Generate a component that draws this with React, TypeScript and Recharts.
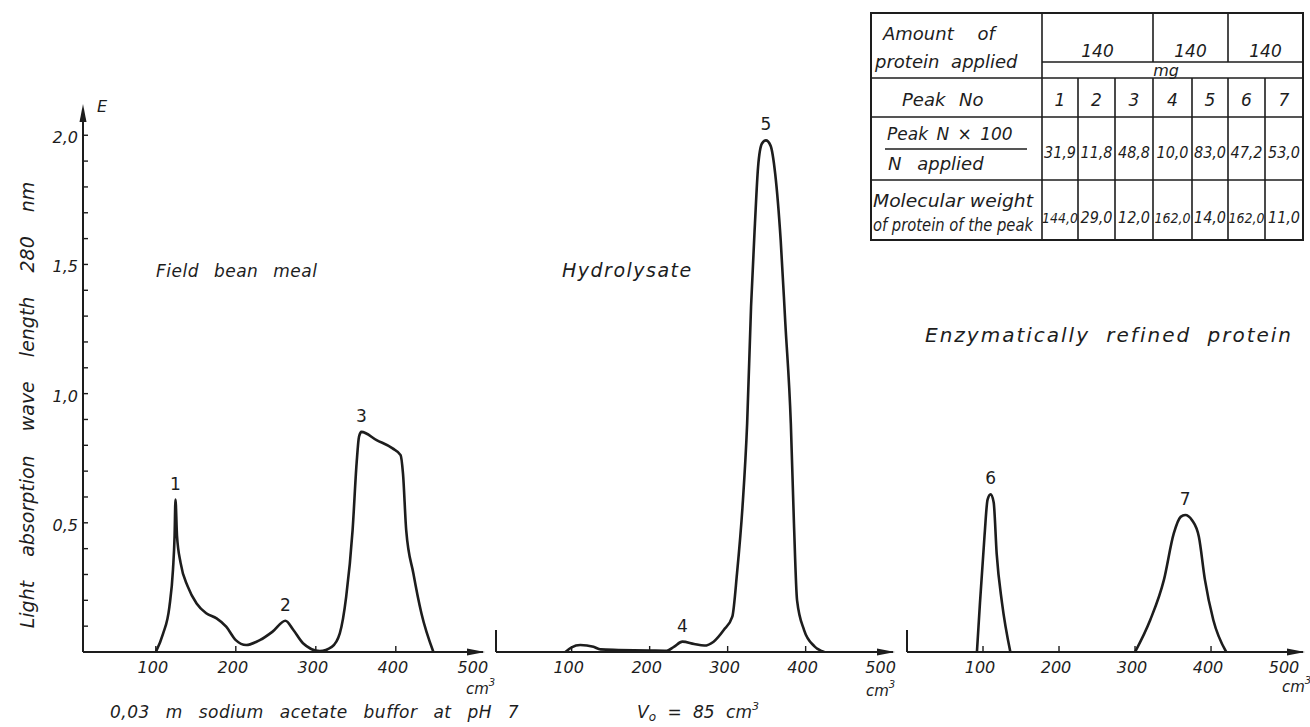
import React from "react";
import { LineChart, Line, XAxis, YAxis, ReferenceDot, ReferenceLine } from "recharts";

// elution volume (cm3) and extinction E at 280 nm
const fieldBeanVolume = [100, 109, 117, 121.5, 123.5, 124.6, 126.5, 131, 140, 151, 163, 176, 188, 200, 213, 230, 246, 262, 272, 284, 305, 320, 330, 338, 346, 351, 354, 357, 376, 396, 406, 409, 413, 422, 432, 447];
const fieldBeanE = [0, 0.07, 0.175, 0.32, 0.45, 0.59, 0.45, 0.345, 0.253, 0.188, 0.15, 0.13, 0.098, 0.046, 0.027, 0.046, 0.079, 0.121, 0.085, 0.034, 0.004, 0.02, 0.072, 0.214, 0.472, 0.73, 0.833, 0.852, 0.82, 0.788, 0.762, 0.69, 0.472, 0.304, 0.15, 0];

const hydrolysateVolume = [92, 100, 111, 128, 137, 160, 200, 222, 231, 242, 257, 270, 282, 295, 306, 312, 319, 325, 330, 335, 339, 344, 349, 355, 361, 368, 374, 381, 385, 389, 398, 411, 424];
const hydrolysateE = [0, 0.018, 0.027, 0.02, 0.01, 0.008, 0.006, 0.005, 0.02, 0.04, 0.031, 0.025, 0.04, 0.085, 0.137, 0.304, 0.56, 0.885, 1.336, 1.658, 1.877, 1.968, 1.98, 1.96, 1.85, 1.594, 1.27, 0.885, 0.498, 0.2, 0.085, 0.023, 0];

const refinedVolume = [92, 96, 102, 106, 110, 114, 118, 125, 136, 200, 300, 320, 338, 351, 360, 366, 375, 384, 392, 403, 420];
const refinedE = [0, 0.19, 0.45, 0.59, 0.61, 0.58, 0.38, 0.19, 0, null, 0, 0.124, 0.279, 0.459, 0.523, 0.53, 0.51, 0.446, 0.279, 0.124, 0];

const fieldBeanPeaks = [
  { label: "1", volume: 124.6, e: 0.59 },
  { label: "2", volume: 262, e: 0.121 },
  { label: "3", volume: 357, e: 0.852 },
];
const hydrolysatePeaks = [
  { label: "4", volume: 242, e: 0.04 },
  { label: "5", volume: 349, e: 1.98 },
];
const refinedPeaks = [
  { label: "6", volume: 110, e: 0.61 },
  { label: "7", volume: 366, e: 0.53 },
];

const volumeTicks = [100, 200, 300, 400, 500];
const eTicks = [0.1, 0.2, 0.3, 0.4, 0.5, 0.6, 0.7, 0.8, 0.9, 1.0, 1.1, 1.2, 1.3, 1.4, 1.5, 1.6, 1.7, 1.8, 1.9, 2.0];

// table
const amountApplied = ["140", "140", "140"];
const amountSpan = [3, 2, 2];
const peakNumbers = ["1", "2", "3", "4", "5", "6", "7"];
const peakNitrogen = ["31,9", "11,8", "48,8", "10,0", "83,0", "47,2", "53,0"];
const molecularWeight = ["144,0", "29,0", "12,0", "162,0", "14,0", "162,0", "11,0"];

const FONT = "'DejaVu Sans', 'Liberation Sans', sans-serif";
const NARROW = "'Liberation Sans Narrow', 'DejaVu Sans Condensed', sans-serif";
const INK = "#1d1d1d";

const W = 1310;
const H = 727;
const PLOT_TOP = 112;
const PLOT_BOTTOM = 652;
const Y_MAX = 2.09;

const XTick = (props: any) => {
  const { x, y, payload } = props;
  const v = payload.value;
  return (
    <g>
      {v < 500 && <line x1={x} x2={x} y1={y} y2={y - 6} stroke={INK} strokeWidth={1.4} />}
      <text x={x - 3} y={y + 21} textAnchor="middle" fontFamily={FONT} fontStyle="italic" fontSize={16} fill={INK}>
        {v}
      </text>
    </g>
  );
};

const YTick = (props: any) => {
  const { x, y, payload } = props;
  const v = payload.value;
  const major = Math.abs(v * 2 - Math.round(v * 2)) < 1e-6;
  return (
    <g>
      <line x1={x} x2={x + 5} y1={y} y2={y} stroke={INK} strokeWidth={1.4} />
      {major && (
        <text x={x - 5} y={y + 8} textAnchor="end" fontFamily={FONT} fontStyle="italic" fontSize={16} fill={INK}>
          {v.toFixed(1).replace(".", ",")}
        </text>
      )}
    </g>
  );
};

interface PanelProps {
  volume: number[];
  e: (number | null)[];
  peaks: { label: string; volume: number; e: number }[];
  plotLeft: number;
  plotWidth: number;
  domain: [number, number];
  marginLeft: number;
  marginRight: number;
  withYAxis?: boolean;
}

function Panel({ volume, e, peaks, plotLeft, plotWidth, domain, marginLeft, marginRight, withYAxis }: PanelProps) {
  const data = volume.map((v, i) => ({ v, e: e[i] }));
  // axes need 1px of room or recharts skips drawing them
  const left = withYAxis ? marginLeft - 1 : marginLeft;
  return (
    <div style={{ position: "absolute", left: plotLeft - marginLeft, top: 0 }}>
      <LineChart
        width={marginLeft + plotWidth + marginRight}
        height={H}
        data={data}
        margin={{ top: PLOT_TOP, bottom: H - PLOT_BOTTOM - 1, left, right: marginRight }}
      >
        <XAxis
          type="number"
          dataKey="v"
          domain={domain}
          allowDataOverflow
          ticks={volumeTicks}
          interval={0}
          height={1}
          tickSize={0}
          tickMargin={0}
          tickLine={false}
          tick={<XTick />}
          axisLine={{ stroke: INK, strokeWidth: 2 }}
        />
        <YAxis
          type="number"
          domain={[0, Y_MAX]}
          allowDataOverflow
          ticks={eTicks}
          interval={0}
          width={1}
          tickSize={0}
          tickMargin={0}
          tickLine={false}
          hide={!withYAxis}
          tick={<YTick />}
          axisLine={{ stroke: INK, strokeWidth: 2 }}
        />
        {!withYAxis && (
          <ReferenceLine
            segment={[{ x: domain[0], y: 0 }, { x: domain[0], y: 0.085 }]}
            stroke={INK}
            strokeWidth={2}
          />
        )}
        <Line
          type="monotone"
          dataKey="e"
          stroke={INK}
          strokeWidth={2.6}
          dot={false}
          connectNulls={false}
          isAnimationActive={false}
        />
        {peaks.map((p) => (
          <ReferenceDot
            key={p.label}
            x={p.volume}
            y={p.e}
            r={1}
            fill="none"
            stroke="none"
            label={{ value: p.label, position: "top", offset: 9, fontFamily: FONT, fontSize: 17, fill: INK }}
          />
        ))}
      </LineChart>
    </div>
  );
}

const txt = { fontFamily: FONT, fontStyle: "italic" as const, fill: INK };

function Table() {
  const x0 = 871;
  const x1 = 1042;
  const cols = [1042, 1078, 1115, 1153, 1192, 1228, 1265, 1303];
  const rows = [13, 62, 78, 117, 180, 240];
  const mid = (i: number) => (cols[i] + cols[i + 1]) / 2;
  let start = 0;
  const groups = amountSpan.map((s) => {
    const g = { a: cols[start], b: cols[start + s] };
    start += s;
    return g;
  });
  return (
    <g>
      <rect x={x0} y={rows[0]} width={cols[7] - x0} height={rows[5] - rows[0]} fill="none" stroke={INK} strokeWidth={2} />
      <line x1={x1} x2={x1} y1={rows[0]} y2={rows[5]} stroke={INK} strokeWidth={1.6} />
      <line x1={x1} x2={cols[7]} y1={rows[1]} y2={rows[1]} stroke={INK} strokeWidth={1.6} />
      {[2, 3, 4].map((r) => (
        <line key={r} x1={x0} x2={cols[7]} y1={rows[r]} y2={rows[r]} stroke={INK} strokeWidth={1.6} />
      ))}
      {groups.slice(1).map((g, i) => (
        <line key={i} x1={g.a} x2={g.a} y1={rows[0]} y2={rows[1]} stroke={INK} strokeWidth={1.6} />
      ))}
      {cols.slice(1, 7).map((c) => (
        <line key={c} x1={c} x2={c} y1={rows[2]} y2={rows[5]} stroke={INK} strokeWidth={1.6} />
      ))}
      <text x={883} y={40} fontSize={18} style={{ wordSpacing: 18 }} {...txt}>Amount of</text>
      <text x={875} y={68} fontSize={18} style={{ wordSpacing: 6 }} {...txt}>protein applied</text>
      {groups.map((g, i) => (
        <text key={i} x={(g.a + g.b) / 2} y={57} fontSize={17} textAnchor="middle" {...txt}>{amountApplied[i]}</text>
      ))}
      <text x={1166} y={76} fontSize={16} textAnchor="middle" {...txt}>mg</text>
      <text x={902} y={106} fontSize={18} style={{ wordSpacing: 8 }} {...txt}>Peak No</text>
      {peakNumbers.map((n, i) => (
        <text key={n} x={mid(i)} y={106} fontSize={17} textAnchor="middle" {...txt}>{n}</text>
      ))}
      <text x={887} y={140} fontSize={17} style={{ wordSpacing: 3 }} {...txt}>Peak N × 100</text>
      <line x1={885} x2={1027} y1={149} y2={149} stroke={INK} strokeWidth={1.4} />
      <text x={888} y={170} fontSize={18} style={{ wordSpacing: 10 }} {...txt}>N applied</text>
      {peakNitrogen.map((v, i) => (
        <text key={i} x={mid(i)} y={158} fontSize={16} textAnchor="middle" fontFamily={NARROW} fontStyle="italic" fill={INK}>{v}</text>
      ))}
      <text x={873} y={207} fontSize={17} textLength={160} lengthAdjust="spacingAndGlyphs" {...txt}>Molecular weight</text>
      <text x={873} y={231} fontSize={17} textLength={160} lengthAdjust="spacingAndGlyphs" fontFamily={NARROW} fontStyle="italic" fill={INK}>of protein of the peak</text>
      {molecularWeight.map((v, i) => (
        <text key={i} x={mid(i)} y={223} fontSize={v.length > 4 ? 14 : 16} textAnchor="middle" fontFamily={NARROW} fontStyle="italic" fill={INK}>{v}</text>
      ))}
    </g>
  );
}

function Overlay() {
  const arrowX = (tip: number) => `${tip},${PLOT_BOTTOM} ${tip - 18},${PLOT_BOTTOM - 3.5} ${tip - 18},${PLOT_BOTTOM + 3.5}`;
  const cm3 = (x: number, y: number) => (
    <text x={x} y={y} fontSize={15} {...txt}>
      cm<tspan fontSize={10} dy={-8}>3</tspan>
    </text>
  );
  return (
    <svg width={W} height={H} style={{ position: "absolute", left: 0, top: 0, pointerEvents: "none" }}>
      <polygon points={`83,104 79.5,122 86.5,122`} fill={INK} />
      <polygon points={arrowX(485)} fill={INK} />
      <polygon points={arrowX(895)} fill={INK} />
      <polygon points={arrowX(1305)} fill={INK} />
      <text transform="translate(34,405) rotate(-90)" textAnchor="middle" fontSize={19} style={{ wordSpacing: 18 }} {...txt}>
        Light absorption wave length 280 nm
      </text>
      <text x={97} y={112} fontSize={16} {...txt}>E</text>
      <text x={156} y={277} fontSize={17} style={{ wordSpacing: 9, letterSpacing: 0.5 }} {...txt}>Field bean meal</text>
      <text x={562} y={277} fontSize={19} style={{ letterSpacing: 1.5 }} {...txt}>Hydrolysate</text>
      <text x={925} y={342} fontSize={20} style={{ letterSpacing: 2, wordSpacing: 8 }} {...txt}>Enzymatically refined protein</text>
      <text x={110} y={718} fontSize={17} style={{ wordSpacing: 10, letterSpacing: 0.5 }} {...txt}>0,03 m sodium acetate buffor at pH 7</text>
      <text x={637} y={718} fontSize={17} {...txt}>
        V<tspan fontSize={12} dy={3}>o</tspan>
        <tspan dy={-3} style={{ wordSpacing: 6 }}> = 85 cm</tspan>
        <tspan fontSize={11} dy={-8}>3</tspan>
      </text>
      {cm3(466, 694)}
      {cm3(866, 696)}
      {cm3(1282, 692)}
      <Table />
    </svg>
  );
}

export default function App() {
  return (
    <div style={{ position: "absolute", left: 0, top: 0, width: W, height: H, background: "#fff", overflow: "hidden" }}>
      <Panel
        volume={fieldBeanVolume}
        e={fieldBeanE}
        peaks={fieldBeanPeaks}
        plotLeft={83}
        plotWidth={400}
        domain={[9, 509]}
        marginLeft={83}
        marginRight={20}
        withYAxis
      />
      <Panel
        volume={hydrolysateVolume}
        e={hydrolysateE}
        peaks={hydrolysatePeaks}
        plotLeft={496}
        plotWidth={397}
        domain={[3, 512]}
        marginLeft={20}
        marginRight={20}
      />
      <Panel
        volume={refinedVolume}
        e={refinedE}
        peaks={refinedPeaks}
        plotLeft={907}
        plotWidth={396}
        domain={[0, 521]}
        marginLeft={20}
        marginRight={7}
      />
      <Overlay />
    </div>
  );
}
